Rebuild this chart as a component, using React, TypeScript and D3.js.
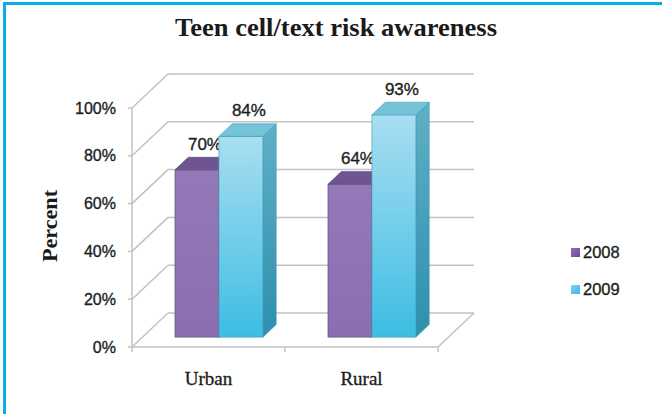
import React from "react";
import * as d3 from "d3";

const categories = ["Urban", "Rural"];
const seriesNames = ["2008", "2009"];
const values2008 = [70, 64];
const values2009 = [84, 93];
const yTicks = [0, 20, 40, 60, 80, 100];
const title = "Teen cell/text risk awareness";
const yTitle = "Percent";

const W = 662;
const H = 414;

export default function App() {
  const series = [values2008, values2009];
  const plotLeft = 132;
  const plotRight = 438;
  const y = d3.scaleLinear().domain([0, 100]).range([347, 108]);
  const x = d3.scaleBand<string>().domain(categories).range([plotLeft, plotRight]).padding(0);
  const inner = d3
    .scaleBand<string>()
    .domain(seriesNames)
    .range([0, x.bandwidth()])
    .paddingInner(0)
    .paddingOuter(0.74);

  // depth offsets
  const DX = 36;
  const DY = -34;
  const f1 = 0.29; // bar front depth fraction
  const f2 = 0.66; // bar back depth fraction
  const bdx = DX * f1;
  const bdy = DY * f1;
  const ddx = DX * (f2 - f1);
  const ddy = DY * (f2 - f1);

  const grid = "#c2c2c2";
  const textCol = "#1e1e1e";

  const colors = [
    { front: "url(#purpleFront)", top: "#6e5591", side: "#5e4a80", stroke: "#5b4777" },
    { front: "url(#cyanFront)", top: "#74c3d8", side: "url(#cyanSide)", stroke: "#3c9ab5" },
  ];

  const bars: any[] = [];
  categories.forEach((c, ci) => {
    seriesNames.forEach((s, si) => {
      const v = series[si][ci];
      const x0 = (x(c) as number) + (inner(s) as number) + bdx;
      const w = inner.bandwidth();
      const yTop = y(v) + bdy;
      const yBot = y(0) + bdy;
      const col = colors[si];
      const pt = (a: number, b: number) => `${a},${b}`;
      bars.push(
        <g key={`${c}-${s}`}>
          <polygon
            points={[pt(x0 + w, yTop), pt(x0 + w + ddx, yTop + ddy), pt(x0 + w + ddx, yBot + ddy), pt(x0 + w, yBot)].join(" ")}
            fill={col.side}
            stroke={col.stroke}
            strokeWidth={0.6}
          />
          <rect x={x0} y={yTop} width={w} height={yBot - yTop} fill={col.front} stroke={col.stroke} strokeWidth={0.6} />
          <polygon
            points={[pt(x0, yTop), pt(x0 + ddx, yTop + ddy), pt(x0 + w + ddx, yTop + ddy), pt(x0 + w, yTop)].join(" ")}
            fill={col.top}
            stroke={col.stroke}
            strokeWidth={0.6}
          />
          <text
            x={x0 + w / 2 + 8}
            y={yTop - 20}
            textAnchor="middle"
            fontFamily="'Liberation Sans', Arial, sans-serif"
            fontSize={17}
            fill={textCol}
            stroke={textCol}
            strokeWidth={0.35}
          >
            {v}%
          </text>
        </g>
      );
    });
  });

  return (
    <div style={{ position: "fixed", left: 0, top: 0, width: W, height: H, background: "#fff" }}>
      <svg width={W} height={H} style={{ display: "block" }}>
        <defs>
          <linearGradient id="purpleFront" x1="0" y1="0" x2="0" y2="1">
            <stop offset="0" stopColor="#9479b8" />
            <stop offset="1" stopColor="#8a6eb0" />
          </linearGradient>
          <linearGradient id="cyanFront" x1="0" y1="0" x2="0" y2="1">
            <stop offset="0" stopColor="#a9def1" />
            <stop offset="1" stopColor="#3dbde3" />
          </linearGradient>
          <linearGradient id="cyanSide" x1="0" y1="0" x2="0" y2="1">
            <stop offset="0" stopColor="#5fb0c6" />
            <stop offset="1" stopColor="#2e8fae" />
          </linearGradient>
          <linearGradient id="leg1" x1="0" y1="0" x2="1" y2="1">
            <stop offset="0" stopColor="#8a6cb3" />
            <stop offset="1" stopColor="#6a4f96" />
          </linearGradient>
          <linearGradient id="leg2" x1="0" y1="0" x2="1" y2="1">
            <stop offset="0" stopColor="#7fd3ef" />
            <stop offset="1" stopColor="#3ab7e0" />
          </linearGradient>
        </defs>
        <rect x={0} y={0} width={W} height={H} fill="#fff" />
        {/* frame */}
        <line x1={3} y1={3.5} x2={W} y2={3.5} stroke="#0aaee9" strokeWidth={3} />
        <line x1={4.5} y1={2} x2={4.5} y2={H} stroke="#0aaee9" strokeWidth={3} />

        <text
          x={336}
          y={36}
          textAnchor="middle"
          fontFamily="'Liberation Serif', 'Times New Roman', serif"
          fontWeight="bold"
          fontSize={26}
          textLength={322}
          lengthAdjust="spacingAndGlyphs"
          fill="#1a1a1a"
        >
          {title}
        </text>

        {/* back wall gridlines and diagonals */}
        {yTicks.map((t) => (
          <g key={t}>
            <line x1={plotLeft + DX} y1={y(t) + DY} x2={plotRight + DX} y2={y(t) + DY} stroke={grid} strokeWidth={1.5} />
            <line x1={plotLeft} y1={y(t)} x2={plotLeft + DX} y2={y(t) + DY} stroke={grid} strokeWidth={1.5} />
            <line x1={plotLeft - 4} y1={y(t)} x2={plotLeft} y2={y(t)} stroke={grid} strokeWidth={1.5} />
            <text
              x={116}
              y={y(t)}
              dy="0.35em"
              textAnchor="end"
              fontFamily="'Liberation Sans', Arial, sans-serif"
              fontSize={16}
              fill={textCol}
              stroke={textCol}
              strokeWidth={0.35}
            >
              {t}%
            </text>
          </g>
        ))}
        {/* floor */}
        <line x1={plotRight} y1={y(0)} x2={plotRight + DX} y2={y(0) + DY} stroke={grid} strokeWidth={1.5} />
        <line x1={plotLeft} y1={y(0)} x2={plotRight} y2={y(0)} stroke={grid} strokeWidth={1.5} />
        <line x1={plotLeft} y1={y(100)} x2={plotLeft} y2={y(0)} stroke={grid} strokeWidth={1.5} />
        {[plotLeft, ...categories.slice(1).map((c) => x(c) as number), plotRight].map((tx, i) => (
          <line key={i} x1={tx} y1={y(0)} x2={tx} y2={y(0) + 5} stroke={grid} strokeWidth={1.5} />
        ))}

        {bars}

        {categories.map((c) => (
          <text
            key={c}
            x={(x(c) as number) + x.bandwidth() / 2}
            y={385}
            textAnchor="middle"
            fontFamily="'Liberation Serif', 'Times New Roman', serif"
            fontSize={19}
            fill={textCol}
            stroke={textCol}
            strokeWidth={0.35}
          >
            {c}
          </text>
        ))}

        <text
          transform="translate(57,226) rotate(-90)"
          textAnchor="middle"
          fontFamily="'Liberation Serif', 'Times New Roman', serif"
          fontWeight="bold"
          fontSize={20}
          textLength={72}
          lengthAdjust="spacingAndGlyphs"
          fill="#1a1a1a"
        >
          {yTitle}
        </text>

        {/* legend */}
        {seriesNames.map((s, i) => (
          <g key={s} transform={`translate(571,${248 + i * 37})`}>
            <rect x={0} y={0} width={9} height={9} fill={`url(#leg${i + 1})`} />
            <text
              x={12}
              y={4.5}
              dy="0.36em"
              fontFamily="'Liberation Sans', Arial, sans-serif"
              fontSize={16.5}
              fill={textCol}
              stroke={textCol}
              strokeWidth={0.35}
            >
              {s}
            </text>
          </g>
        ))}
      </svg>
    </div>
  );
}
